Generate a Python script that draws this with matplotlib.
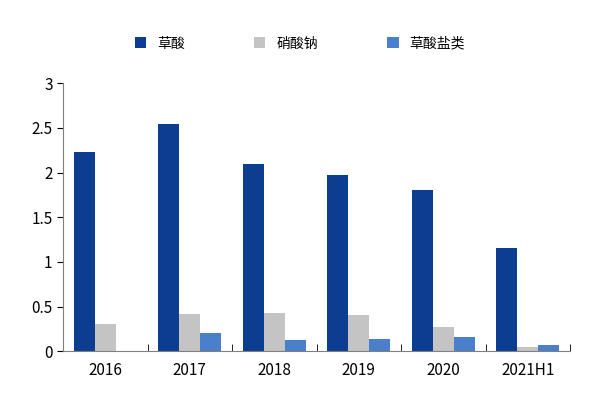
import matplotlib.pyplot as plt
import numpy as np

plt.rcParams['font.family'] = ['Noto Sans CJK SC', 'DejaVu Sans']

years = ["2016", "2017", "2018", "2019", "2020", "2021H1"]
oxalic = [2.23, 2.54, 2.10, 1.97, 1.81, 1.15]
sodium_nitrate = [0.30, 0.42, 0.43, 0.41, 0.27, 0.05]
oxalate_salts = [0.0, 0.20, 0.12, 0.14, 0.16, 0.07]

fig, ax = plt.subplots(figsize=(6, 4), dpi=100)
x = np.arange(len(years))
w = 0.25
ax.bar(x - w, oxalic, w, color='#0B3D91', label='草酸')
ax.bar(x, sodium_nitrate, w, color='#C4C4C4', label='硝酸钠')
ax.bar(x + w, oxalate_salts, w, color='#4A7FCB', label='草酸盐类')

ax.set_xlim(-0.5, len(years) - 0.5)
ax.set_ylim(0, 3)
ax.set_yticks([0, 0.5, 1, 1.5, 2, 2.5, 3])
ax.set_yticklabels(['0', '0.5', '1', '1.5', '2', '2.5', '3'])
ax.set_xticks(x)
ax.set_xticklabels(years)
ax.set_xticks(np.arange(len(years) + 1) - 0.5, minor=True)
ax.tick_params(axis='x', which='major', length=0, labelsize=11, pad=8)
ax.tick_params(axis='x', which='minor', length=5, direction='in')
ax.tick_params(axis='y', labelsize=11, direction='out', length=4)
ax.spines['top'].set_visible(False)
ax.spines['right'].set_visible(False)
ax.spines['left'].set_color('#808080')
ax.spines['bottom'].set_color('#808080')

fig.legend(loc='upper center', bbox_to_anchor=(0.5, 0.94), ncol=3, frameon=False,
           fontsize=10, handlelength=0.8, handleheight=0.8, columnspacing=5)
plt.subplots_adjust(left=0.105, right=0.95, bottom=0.122, top=0.792)
fig.savefig('out.png')
